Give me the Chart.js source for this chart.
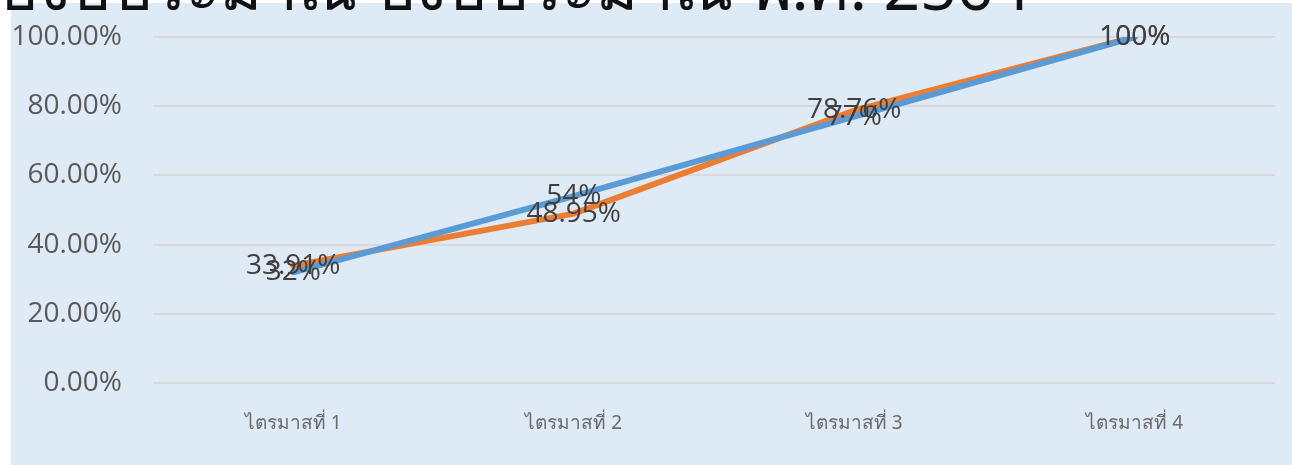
<!DOCTYPE html>
<html>
<head>
<meta charset="utf-8">
<script src="https://cdn.jsdelivr.net/npm/chart.js@4"></script>
<style>
  html, body { margin: 0; padding: 0; background: #fff; }
  #wrap { width: 1292px; height: 465px; position: relative; }
</style>
</head>
<body>
<div id="wrap"><canvas id="myChart" width="1292" height="465"></canvas></div>
<script>
// data
const quarters = ['ไตรมาสที่ 1', 'ไตรมาสที่ 2', 'ไตรมาสที่ 3', 'ไตรมาสที่ 4'];
const orangeValues = [33.91, 48.95, 78.76, 100];
const blueValues = [32, 54, 77, 100];
const yTicks = [0, 20, 40, 60, 80, 100];
const titleText = 'ผลการเบิกจ่ายงบประมาณ ปีงบประมาณ พ.ศ. 2564';

// light blue panel + cut-off title at the top
const panelPlugin = {
    id: 'panel',
    beforeDraw(chart) {
        const ctx = chart.ctx;
        ctx.save();
        ctx.fillStyle = '#DEEAF6';
        ctx.fillRect(11, 3, chart.width - 11, chart.height - 3);
        ctx.restore();
    },
    afterDraw(chart) {
        const ctx = chart.ctx;
        ctx.save();
        ctx.fillStyle = '#111';
        ctx.font = '64px "Noto Sans", "DejaVu Sans", sans-serif';
        ctx.textAlign = 'right';
        ctx.textBaseline = 'alphabetic';
        ctx.fillText(titleText, 1030, 10);
        ctx.restore();
    }
};

// value labels centred on each point
const pointLabels = {
    id: 'pointLabels',
    afterDatasetsDraw(chart) {
        const ctx = chart.ctx;
        ctx.save();
        ctx.font = '28px "Open Sans", "Liberation Sans", sans-serif';
        ctx.fillStyle = '#404040';
        ctx.textAlign = 'center';
        ctx.textBaseline = 'middle';
        chart.data.datasets.forEach((ds, i) => {
            chart.getDatasetMeta(i).data.forEach((pt, j) => {
                ctx.fillText(ds.data[j] + '%', pt.x, pt.y);
            });
        });
        ctx.restore();
    }
};

const ctx = document.getElementById('myChart').getContext('2d');
const myChart = new Chart(ctx, {
    type: 'line',
    data: {
        labels: quarters,
        datasets: [{
            // blue first so it is painted on top
            label: 'blue',
            data: blueValues,
            borderColor: '#5B9BD5',
            borderWidth: 6,
            borderCapStyle: 'round',
            borderJoinStyle: 'round',
            pointRadius: 0,
            tension: 0
        }, {
            label: 'orange',
            data: orangeValues,
            borderColor: '#ED7D31',
            borderWidth: 6,
            borderCapStyle: 'round',
            borderJoinStyle: 'round',
            pointRadius: 0,
            tension: 0
        }]
    },
    options: {
        responsive: false,
        animation: false,
        devicePixelRatio: 1,
        layout: { padding: { top: 37, right: 17, left: 0, bottom: 0 } },
        plugins: {
            legend: { display: false },
            title: { display: false },
            tooltip: { enabled: false }
        },
        scales: {
            x: {
                offset: true,
                grid: { display: false, drawTicks: false },
                border: { display: false },
                ticks: {
                    color: '#6b6b6b',
                    font: { size: 19, family: '"Noto Sans", "DejaVu Sans", sans-serif' },
                    padding: 29,
                    maxRotation: 0
                },
                afterFit(scale) {
                    scale.height = 82;
                    scale.paddingLeft = 0;
                    scale.paddingRight = 0;
                }
            },
            y: {
                min: 0,
                max: 100,
                afterBuildTicks(scale) { scale.ticks = yTicks.map(v => ({ value: v })); },
                grid: { color: '#D9D9D9', lineWidth: 2, drawTicks: false },
                border: { display: false },
                ticks: {
                    color: '#595959',
                    font: { size: 28, family: '"Open Sans", "Liberation Sans", sans-serif' },
                    padding: 31,
                    callback: v => v.toFixed(2) + '%'
                },
                afterFit(scale) {
                    scale.width = 153;
                    scale.paddingTop = 0;
                    scale.paddingBottom = 0;
                }
            }
        }
    },
    plugins: [panelPlugin, pointLabels]
});
</script>
</body>
</html>
